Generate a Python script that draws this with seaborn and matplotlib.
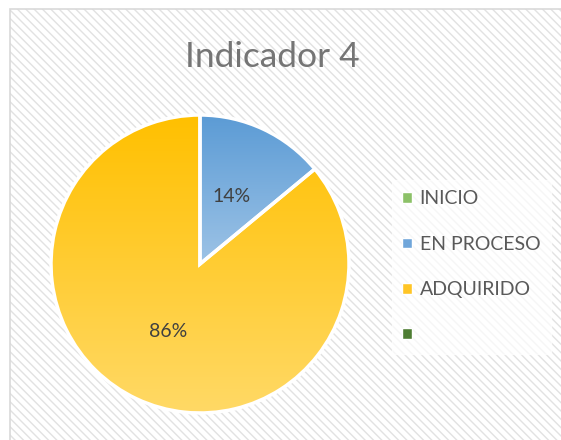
import numpy as np
import matplotlib
matplotlib.use('Agg')
import matplotlib.pyplot as plt
from matplotlib.patches import Rectangle, Patch
from matplotlib.colors import LinearSegmentedColormap
import seaborn as sns

categories = ['INICIO', 'EN PROCESO', 'ADQUIRIDO', '']
values = [0, 14, 86, 0]
title = 'Indicador 4'

# gradient (top, bottom) for each slice, like the Excel fill
grad_colors = [('#70AD47', '#A9D18E'), ('#5B9BD5', '#9DC3E6'),
               ('#FFC000', '#FFD966'), ('#3F6B27', '#5E9140')]
legend_colors = ['#8CC168', '#70A6DA', '#FFC526', '#4E7D33']

sns.set_theme(style='white')
plt.rcParams['font.family'] = ['Lato', 'DejaVu Sans']

fig = plt.figure(figsize=(5.61, 4.40), dpi=100)
fig.patch.set_facecolor('white')

# hatched chart area background
bg = Rectangle((10 / 561, -0.05), 1.0, (440 - 9) / 440 + 0.05, transform=fig.transFigure,
               facecolor='white', edgecolor='#E2E2E2', hatch='\\' * 4, linewidth=0, zorder=-2)
fig.patches.append(bg)
border = Rectangle((10 / 561, -0.05), 1.0, (440 - 9) / 440 + 0.05, transform=fig.transFigure,
                   facecolor='none', edgecolor='#D9D9D9', linewidth=1.2, zorder=-1)
fig.patches.append(border)

ax = fig.add_axes([51 / 561, 27 / 440, 298 / 561, 298 / 440])
ax.set_facecolor('none')
ax.set_zorder(1)


def pct(p):
    return '%.0f%%' % p if p > 0.5 else ''


wedges, texts, autotexts = ax.pie(values, startangle=90, counterclock=False,
                                  autopct=pct, pctdistance=0.5,
                                  wedgeprops=dict(edgecolor='white', linewidth=2.5),
                                  textprops=dict(color='#404040', fontsize=14))

for w, (c_top, c_bot), v in zip(wedges, grad_colors, values):
    if v == 0:
        continue
    ext = w.get_path().transformed(w.get_patch_transform()).get_extents()
    cmap = LinearSegmentedColormap.from_list('g', [c_bot, c_top])
    grad = np.linspace(0, 1, 256).reshape(-1, 1)
    im = ax.imshow(grad, cmap=cmap, origin='lower', aspect='auto',
                   extent=[ext.x0, ext.x1, ext.y0, ext.y1], zorder=1)
    im.set_clip_path(w)
    w.set_facecolor('none')
    w.set_zorder(2)

for t in autotexts:
    t.set_zorder(3)

ax.set_xlim(-1, 1)
ax.set_ylim(-1, 1)
ax.set_aspect('equal')
ax.axis('off')

fig.text(272 / 561, 1 - 57 / 440, title, ha='center', va='center',
         fontsize=25.5, color='#757575')

handles = [Patch(facecolor=c, edgecolor='white', linewidth=1) for c in legend_colors]
leg = fig.legend(handles, categories, loc='upper left',
                 bbox_to_anchor=(382 / 561, 1 - 170 / 440),
                 frameon=True, fancybox=False, fontsize=14,
                 handlelength=0.47, handleheight=0.47, handletextpad=0.42,
                 labelspacing=1.46, borderpad=0.55)
leg.get_frame().set_facecolor('white')
leg.get_frame().set_edgecolor('white')
leg.get_frame().set_alpha(0.7)
leg.set_zorder(2)
for t in leg.get_texts():
    t.set_color('#595959')

fig.savefig('out.png', dpi=100)
